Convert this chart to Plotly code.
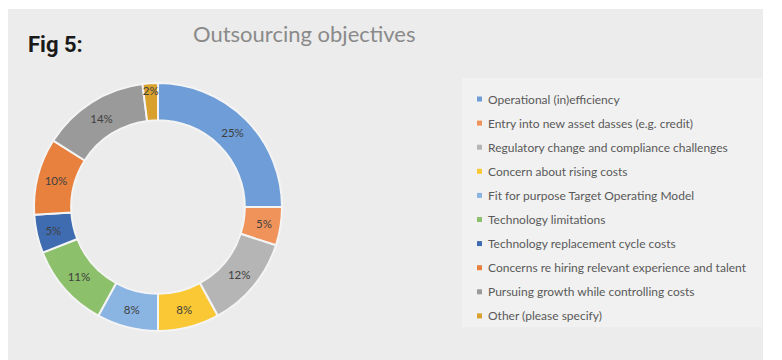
import plotly.graph_objects as go

# browser window size and body offset of the page
WIN_W, WIN_H = 782, 360
OFF = 8
W, H = WIN_W - OFF, WIN_H - OFF

labels = [
    "Operational (in)efficiency",
    "Entry into new asset dasses (e.g. credit)",
    "Regulatory change and compliance challenges",
    "Concern about rising costs",
    "Fit for purpose Target Operating Model",
    "Technology limitations",
    "Technology replacement cycle costs",
    "Concerns re hiring relevant experience and talent",
    "Pursuing growth while controlling costs",
    "Other (please specify)",
]
values = [25, 5, 12, 8, 8, 11, 5, 10, 14, 2]
colors = ["#6E9DD7", "#F0935A", "#B5B5B5", "#F9C834", "#8AB5E3",
          "#8CC06A", "#3F6CB0", "#E8803E", "#9A9A9A", "#D9A02C"]

title_text = "Outsourcing objectives"
fig_label = "Fig 5:"


def px(x):
    return (x - OFF) / W


def py(y):
    return 1 - (y - OFF) / H


# donut geometry (window pixels)
cx, cy, r = 158, 207, 124

fig = go.Figure()
fig.add_trace(go.Pie(
    labels=labels,
    values=values,
    hole=0.70,
    sort=False,
    direction="clockwise",
    rotation=0,
    marker=dict(colors=colors, line=dict(color="#f4f4f4", width=2)),
    texttemplate="%{value}%",
    textposition="inside",
    insidetextorientation="horizontal",
    textfont=dict(family="Lato", size=11.5, color="#404040"),
    showlegend=False,
    hoverinfo="label+percent",
    domain=dict(x=[px(cx - r), px(cx + r)], y=[py(cy + r), py(cy - r)]),
))

shapes = [
    dict(type="rect", xref="paper", yref="paper", x0=0, x1=px(763), y0=0, y1=py(9),
         fillcolor="#ececec", line=dict(width=0), layer="below"),
    dict(type="rect", xref="paper", yref="paper", x0=px(462), x1=px(762), y0=py(327), y1=py(78),
         fillcolor="#f1f1f1", line=dict(width=0), layer="below"),
]

annotations = [
    dict(text=title_text, x=px(304), y=py(33), xref="paper", yref="paper",
         showarrow=False, xanchor="center", yanchor="middle",
         font=dict(family="Lato", size=22, color="#8a8a8a")),
    dict(text="<b>" + fig_label + "</b>", x=px(26), y=py(44), xref="paper", yref="paper",
         showarrow=False, xanchor="left", yanchor="middle",
         font=dict(family="Roboto", size=22, color="#1a1a1a")),
]

y0, step = 99, 24.1
for i, (lab, col) in enumerate(zip(labels, colors)):
    yy = y0 + i * step
    shapes.append(dict(type="rect", xref="paper", yref="paper",
                       x0=px(477), x1=px(482), y0=py(yy + 2.5), y1=py(yy - 2.5),
                       fillcolor=col, line=dict(width=0)))
    annotations.append(dict(text=lab, x=px(486), y=py(yy), xref="paper", yref="paper",
                            showarrow=False, xanchor="left", yanchor="middle",
                            font=dict(family="Lato", size=12, color="#595959")))

fig.update_layout(
    width=W, height=H,
    margin=dict(l=0, r=0, t=0, b=0),
    paper_bgcolor="white",
    plot_bgcolor="white",
    shapes=shapes,
    annotations=annotations,
    uniformtext=dict(minsize=11.5, mode="show"),
)

fig.write_html("out.html")
